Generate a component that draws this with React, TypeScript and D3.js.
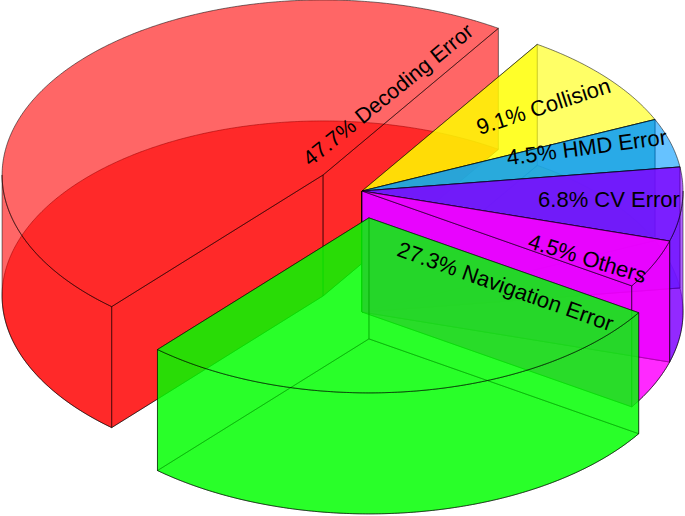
import React from "react";
import * as d3 from "d3";

const categories = ["Decoding Error", "Collision", "HMD Error", "CV Error", "Others", "Navigation Error"];
const percents = [47.7, 9.1, 4.5, 6.8, 4.5, 27.3];
const colors = ["#ff0000", "#ffff00", "#0099ff", "#7f00ff", "#ff00ff", "#00ff00"];
const explode = [0.152, 0, 0, 0, 0, 0.155];

const W = 685, H = 516;
const CX = 362, CY = 191, RX = 321, RY = 175, DEPTH = 121;
const ALPHA = 0.6;
const STROKE = "rgba(0,0,0,0.65)";
const START = (-138.8 * Math.PI) / 180;

const labelPos: [number, number, number, number][] = [
  [389, 96, -39, 21.5],
  [544, 108, -18, 22],
  [587, 149, -7.5, 22],
  [609, 201, 0, 22],
  [587, 260, 17, 22],
  [505, 288, 19.5, 22],
];

type P = [number, number];
const pie = d3.pie<number>().sort(null).value((d) => d).startAngle(START).endAngle(START + 2 * Math.PI);
const arcs = pie(percents);
const xS = d3.scaleLinear().domain([-1, 1]).range([-RX, RX]);
const yS = d3.scaleLinear().domain([-1, 1]).range([RY, -RY]);
const line = d3.line<P>();

const polar = (c: P, a: number, dz = 0): P => [c[0] + xS(Math.sin(a)), c[1] + yS(Math.cos(a)) + dz];

function sample(a0: number, a1: number): number[] {
  const n = Math.max(2, Math.ceil(Math.abs(a1 - a0) / 0.01));
  return d3.range(n + 1).map((i) => a0 + ((a1 - a0) * i) / n);
}

export default function App() {
  return (
    <svg width={W} height={H} viewBox={`0 0 ${W} ${H}`} style={{ position: "absolute", left: 0, top: 0, fontFamily: "'Liberation Sans', Arial, sans-serif" }}>
      {arcs.map((arc, i) => {
        const mid = (arc.startAngle + arc.endAngle) / 2;
        const c: P = [CX + xS(Math.sin(mid) * explode[i]), CY + yS(Math.cos(mid) * explode[i])];
        const c2: P = [c[0], c[1] + DEPTH];
        const ang = sample(arc.startAngle, arc.endAngle);
        const topRim = ang.map((a) => polar(c, a));
        const botRim = ang.map((a) => polar(c, a, DEPTH));
        const topFace = line([c, ...topRim]) + "Z";
        const botFace = line([c2, ...botRim]) + "Z";
        const wall = (a: number) => line([c, polar(c, a), polar(c, a, DEPTH), c2]) + "Z";
        // the outer wall is only drawn where it faces the viewer (south half of the rim)
        const outers: string[] = [];
        for (const shift of [0, -2 * Math.PI]) {
          const lo = Math.max(arc.startAngle, Math.PI / 2 + shift);
          const hi = Math.min(arc.endAngle, (3 * Math.PI) / 2 + shift);
          if (hi > lo) {
            const fa = sample(lo, hi);
            outers.push(line([...fa.map((a) => polar(c, a)), ...fa.slice().reverse().map((a) => polar(c, a, DEPTH))]) + "Z");
          }
        }
        const common = { fill: colors[i], fillOpacity: ALPHA, stroke: STROKE, strokeWidth: 0.8, strokeLinejoin: "round" as const };
        return (
          <g key={categories[i]}>
            <path d={botFace} {...common} />
            <path d={wall(arc.startAngle)} {...common} />
            <path d={wall(arc.endAngle)} {...common} />
            {outers.map((d, k) => <path key={k} d={d} {...common} />)}
            <path d={topFace} {...common} />
          </g>
        );
      })}
      {categories.map((name, i) => (
        <text
          key={name}
          transform={`translate(${labelPos[i][0]},${labelPos[i][1]}) rotate(${labelPos[i][2]})`}
          textAnchor="middle"
          dominantBaseline="middle"
          fontSize={labelPos[i][3]}
          fill="#000"
        >
          {`${percents[i]}% ${name}`}
        </text>
      ))}
    </svg>
  );
}
